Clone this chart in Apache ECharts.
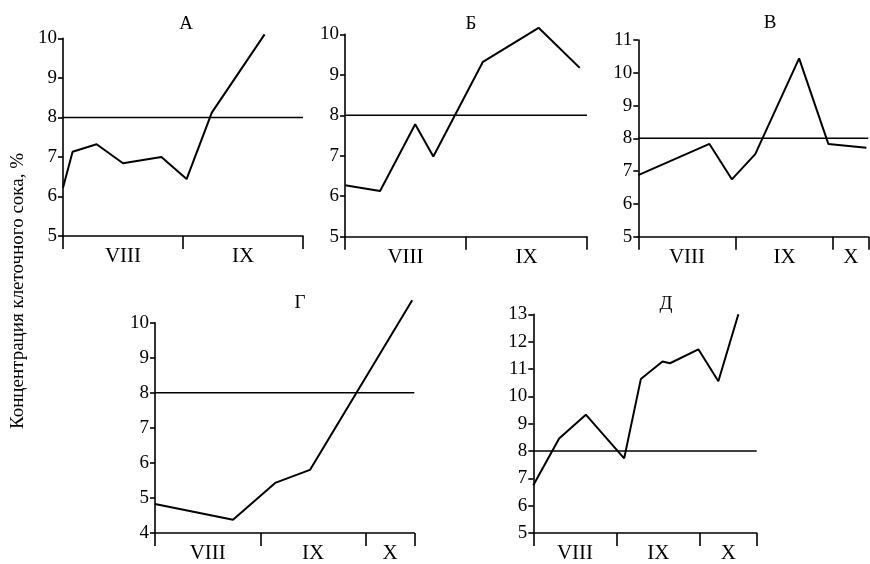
<!DOCTYPE html>
<html>
<head>
<meta charset="utf-8">
<script src="https://cdn.jsdelivr.net/npm/echarts@6/dist/echarts.min.js"></script>
<style>
html,body{margin:0;padding:0;background:#fff;}
#chart{width:870px;height:564px;}
</style>
</head>
<body>
<div id="chart"></div>
<script>
// Panel titles
const panelTitles = ['А', 'Б', 'В', 'Г', 'Д'];
const yAxisTitle = 'Концентрация клеточного сока, %';
const threshold = 8;

// Month labels per panel
const monthsA = ['VIII', 'IX'];
const monthsB = ['VIII', 'IX'];
const monthsV = ['VIII', 'IX', 'X'];
const monthsG = ['VIII', 'IX', 'X'];
const monthsD = ['VIII', 'IX', 'X'];

// Axis extent in months (last month may be partial)
const axisEnd = [2, 2, 2.36, 2.46, 2.68];

// Y ranges
const yMin = [5, 5, 5, 4, 5];
const yMax = [10, 10, 11, 10, 13];

// Series: positions (in months from start of VIII) and values (%)
const posA = [0, 0.08, 0.28, 0.50, 0.82, 1.03, 1.24, 1.68];
const valA = [6.22, 7.13, 7.32, 6.84, 7.0, 6.44, 8.12, 10.1];

const posB = [0, 0.29, 0.58, 0.73, 1.14, 1.60, 1.94];
const valB = [6.27, 6.13, 7.78, 6.98, 9.32, 10.16, 9.17];

const posV = [0, 0.73, 0.96, 1.20, 1.65, 1.95, 2.34];
const valV = [6.88, 7.83, 6.75, 7.52, 10.44, 7.83, 7.71];

const posG = [0, 0.74, 1.14, 1.47, 2.44];
const valG = [4.83, 4.38, 5.43, 5.80, 10.64];

const posD = [0, 0.31, 0.63, 1.09, 1.29, 1.55, 1.64, 1.98, 2.22, 2.46];
const valD = [6.75, 8.46, 9.33, 7.73, 10.63, 11.27, 11.21, 11.72, 10.55, 13.0];

const panels = [
  {months: monthsA, pos: posA, val: valA},
  {months: monthsB, pos: posB, val: valB},
  {months: monthsV, pos: posV, val: valV},
  {months: monthsG, pos: posG, val: valG},
  {months: monthsD, pos: posD, val: valD}
];

// Layout (pixels)
const grids = [
  {left: 63, top: 38.3, width: 240, height: 197.7},
  {left: 345, top: 34.3, width: 242, height: 202.4},
  {left: 638.3, top: 40, width: 230, height: 196.7},
  {left: 155, top: 322.7, width: 259.3, height: 211.3},
  {left: 533.3, top: 314.3, width: 223.4, height: 219.7}
];
const titlePos = [
  {x: 181, y: 10}, {x: 466, y: 10}, {x: 765, y: 9}, {x: 295, y: 289}, {x: 661, y: 290}
];

const FONT = "'Liberation Serif', 'DejaVu Serif', serif";

const option = {
  backgroundColor: '#fff',
  animation: false,
  title: panelTitles.map((t, i) => ({
    text: t, left: titlePos[i].x, top: titlePos[i].y, textAlign: 'center',
    textStyle: {fontFamily: FONT, fontSize: 19, fontWeight: 'normal', color: '#000'}
  })),
  grid: grids.map(g => Object.assign({containLabel: false}, g)),
  xAxis: panels.map((p, i) => {
    const ticks = [];
    for (let m = 0; m < p.months.length; m++) ticks.push(m);
    ticks.push(axisEnd[i]);
    const labelVals = p.months.map((m, k) => (k + Math.min(k + 1, axisEnd[i])) / 2);
    return {
      type: 'value', gridIndex: i, min: 0, max: axisEnd[i],
      splitLine: {show: false},
      axisLine: {show: true, onZero: false, lineStyle: {color: '#000', width: 1.6}},
      axisTick: {show: true, customValues: ticks, length: 13, lineStyle: {color: '#000', width: 1.6}},
      axisLabel: {
        show: true, customValues: labelVals, margin: 10,
        fontFamily: FONT, fontSize: 21, color: '#000',
        formatter: v => p.months[Math.floor(v)]
      }
    };
  }),
  yAxis: panels.map((p, i) => ({
    type: 'value', gridIndex: i, min: yMin[i], max: yMax[i], interval: 1,
    splitLine: {show: false},
    axisLine: {show: true, onZero: false, lineStyle: {color: '#000', width: 1.6}},
    axisTick: {show: true, length: 5, lineStyle: {color: '#000', width: 1.6}},
    axisLabel: {margin: 6, fontFamily: FONT, fontSize: 19, color: '#000'}
  })),
  series: panels.flatMap((p, i) => [
    {
      type: 'line', xAxisIndex: i, yAxisIndex: i, clip: false,
      symbol: 'none', silent: true,
      lineStyle: {color: '#000', width: 1.5},
      data: [[0, threshold], [axisEnd[i], threshold]]
    },
    {
      type: 'line', xAxisIndex: i, yAxisIndex: i, clip: false,
      symbol: 'none', silent: true,
      lineStyle: {color: '#000', width: 2},
      data: p.pos.map((x, k) => [x, p.val[k]])
    }
  ]),
  graphic: [{
    type: 'text', x: 18, y: 291, rotation: Math.PI / 2,
    style: {
      text: yAxisTitle, fill: '#000', fontFamily: FONT, fontSize: 19,
      textAlign: 'center', textVerticalAlign: 'middle'
    }
  }]
};

const chart = echarts.init(document.getElementById('chart'), null, {renderer: 'canvas'});
chart.setOption(option);
</script>
</body>
</html>
